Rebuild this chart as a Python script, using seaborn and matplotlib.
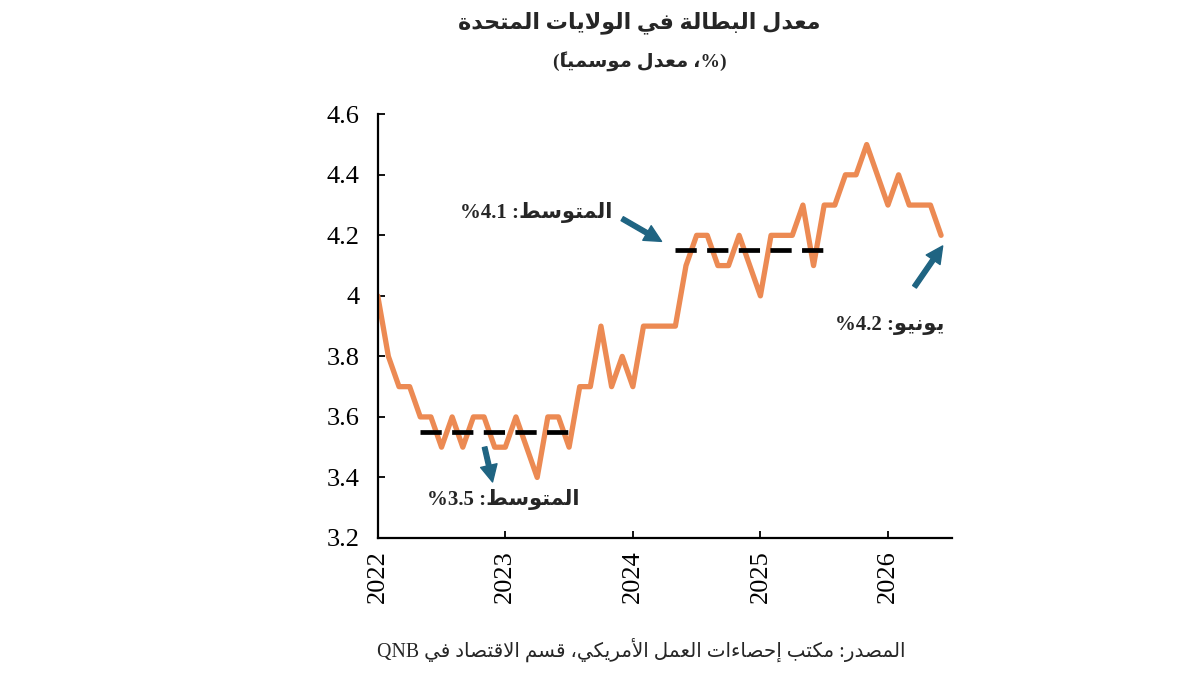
import numpy as np
import pandas as pd
import matplotlib
matplotlib.use('Agg')
import matplotlib.pyplot as plt
import seaborn as sns

# monthly unemployment rate, Jan 2022 .. Jun 2026
rate = [4.0, 3.8, 3.7, 3.7, 3.6, 3.6, 3.5, 3.6, 3.5, 3.6, 3.6, 3.5,
        3.5, 3.6, 3.5, 3.4, 3.6, 3.6, 3.5, 3.7, 3.7, 3.9, 3.7, 3.8,
        3.7, 3.9, 3.9, 3.9, 3.9, 4.1, 4.2, 4.2, 4.1, 4.1, 4.2, 4.1,
        4.0, 4.2, 4.2, 4.2, 4.3, 4.1, 4.3, 4.3, 4.4, 4.4, 4.5, 4.4,
        4.3, 4.4, 4.3, 4.3, 4.3, 4.2]
years = ['2022', '2023', '2024', '2025', '2026']

# averages (value, first month index, last month index)
avg_low = (3.55, 4, 18)
avg_high = (4.15, 28, 42)

title = 'معدل البطالة في الولايات المتحدة'
subtitle = '(%، معدل موسمياً)'
label_low = 'المتوسط: %3.5'
label_high = 'المتوسط: %4.1'
label_last = 'يونيو: %4.2'
source = 'المصدر: مكتب إحصاءات العمل الأمريكي، قسم الاقتصاد في QNB'

ORANGE = '#EC8A53'
TEAL = '#1F6482'

# --- minimal arabic shaping + right-to-left ordering (matplotlib has none) ---
DUAL = {'ئ': 0xFE89, 'ب': 0xFE8F, 'ت': 0xFE95, 'ث': 0xFE99, 'ج': 0xFE9D,
        'ح': 0xFEA1, 'خ': 0xFEA5, 'س': 0xFEB1, 'ش': 0xFEB5, 'ص': 0xFEB9,
        'ض': 0xFEBD, 'ط': 0xFEC1, 'ظ': 0xFEC5, 'ع': 0xFEC9, 'غ': 0xFECD,
        'ف': 0xFED1, 'ق': 0xFED5, 'ك': 0xFED9, 'ل': 0xFEDD, 'م': 0xFEE1,
        'ن': 0xFEE5, 'ه': 0xFEE9, 'ي': 0xFEF1}
RIGHT = {'آ': 0xFE81, 'أ': 0xFE83, 'ؤ': 0xFE85, 'إ': 0xFE87, 'ا': 0xFE8D,
         'ة': 0xFE93, 'د': 0xFEA9, 'ذ': 0xFEAB, 'ر': 0xFEAD, 'ز': 0xFEAF,
         'و': 0xFEED, 'ى': 0xFEEF}
NONJOIN = {'ء': 0xFE80}
LAM_ALEF = {'آ': 0xFEF5, 'أ': 0xFEF7, 'إ': 0xFEF9, 'ا': 0xFEFB}
MIRROR = {'(': ')', ')': '('}


def is_mark(c):
    return 0x064B <= ord(c) <= 0x0652


def ar(text):
    # group into clusters: base char + following marks
    clusters = []
    for c in text:
        if is_mark(c) and clusters:
            clusters[-1][1].append(c)
        else:
            clusters.append([c, []])

    shaped = []
    prev_dual = False
    i = 0
    while i < len(clusters):
        base, marks = clusters[i]
        nxt = clusters[i + 1][0] if i + 1 < len(clusters) else ''
        next_joins = nxt in DUAL or nxt in RIGHT
        if base == 'ل' and nxt in LAM_ALEF:
            shaped.append((chr(LAM_ALEF[nxt] + (1 if prev_dual else 0)), marks + clusters[i + 1][1], 'R'))
            prev_dual = False
            i += 2
            continue
        if base in DUAL:
            form = {(False, False): 0, (True, False): 1, (False, True): 2, (True, True): 3}[(prev_dual, next_joins)]
            shaped.append((chr(DUAL[base] + form), marks, 'R'))
            prev_dual = True
        elif base in RIGHT:
            shaped.append((chr(RIGHT[base] + (1 if prev_dual else 0)), marks, 'R'))
            prev_dual = False
        elif base in NONJOIN:
            shaped.append((chr(NONJOIN[base]), marks, 'R'))
            prev_dual = False
        else:
            ltr = base.isascii() and (base.isalnum() or base in '.%')
            shaped.append((base, marks, 'L' if ltr else 'R'))
            prev_dual = False
        i += 1

    # split into runs, keep LTR runs in order, reverse everything else
    runs = []
    for item in shaped:
        if runs and runs[-1][0] == item[2] == 'L':
            runs[-1][1].append(item)
        else:
            runs.append([item[2], [item]])
    out = ''
    for kind, items in reversed(runs):
        for base, marks, _ in items:
            # zero-width marks go in front so they land on their own letter
            out += ''.join(marks) + MIRROR.get(base, base)
    return out


# --- plot ---
sns.set_style('ticks')
plt.rcParams['font.family'] = ['Liberation Serif', 'DejaVu Sans']
AR_FONT = ['Liberation Serif', 'DejaVu Sans']

df = pd.DataFrame({'month': np.arange(len(rate)), 'rate': rate})

fig = plt.figure(figsize=(12, 6.75), dpi=100)
ax = fig.add_axes([0.3148, 0.203, 0.4783, 0.6277])

sns.lineplot(data=df, x='month', y='rate', ax=ax, color=ORANGE, linewidth=3.8)

for val, start, end in (avg_low, avg_high):
    sns.lineplot(x=[start, end], y=[val, val], ax=ax, color='black',
                 linewidth=3.4, dashes=False, linestyle=(0, (4.5, 2.2)))

ax.set_xlim(0, 54)
ax.set_ylim(3.2, 4.6)
ax.set_xticks(np.arange(len(years)) * 12)
ax.set_xticklabels(years, rotation=90)
ax.set_yticks(np.arange(3.2, 4.61, 0.2))
ax.set_yticklabels(['3.2', '3.4', '3.6', '3.8', '4', '4.2', '4.4', '4.6'])
ax.tick_params(axis='both', direction='in', length=5, width=1.3,
               labelsize=19, colors='black', pad=13)
ax.tick_params(axis='x', pad=9)
ax.set_xlabel('')
ax.set_ylabel('')
sns.despine(ax=ax)
for side in ('left', 'bottom'):
    ax.spines[side].set_linewidth(1.6)
    ax.spines[side].set_color('black')

arrow = dict(arrowstyle='simple,head_length=1.1,head_width=1.1,tail_width=0.3',
             color=TEAL, mutation_scale=11, shrinkA=0, shrinkB=0)
ax.annotate('', xy=(10.8, 3.385), xytext=(10.05, 3.5), arrowprops=arrow)
ax.annotate('', xy=(26.7, 4.18), xytext=(23.0, 4.255), arrowprops=arrow)
ax.annotate('', xy=(53.15, 4.165), xytext=(50.5, 4.03), arrowprops=arrow)

ax.text(11.85, 3.326, ar(label_low), family=AR_FONT, fontsize=15,
        fontweight='bold', ha='center', va='center')
ax.text(14.86, 4.276, ar(label_high), family=AR_FONT, fontsize=15,
        fontweight='bold', ha='center', va='center')
ax.text(48.2, 3.905, ar(label_last), family=AR_FONT, fontsize=15,
        fontweight='bold', ha='center', va='center')

fig.text(0.533, 0.966, ar(title), family=AR_FONT, fontsize=16,
         fontweight='bold', ha='center', va='center')
fig.text(0.533, 0.908, ar(subtitle), family=AR_FONT, fontsize=14,
         fontweight='bold', ha='center', va='center')
fig.text(0.534, 0.037, ar(source), family=AR_FONT, fontsize=14.3,
         ha='center', va='center')

fig.savefig('out.png', dpi=100, facecolor='white')
